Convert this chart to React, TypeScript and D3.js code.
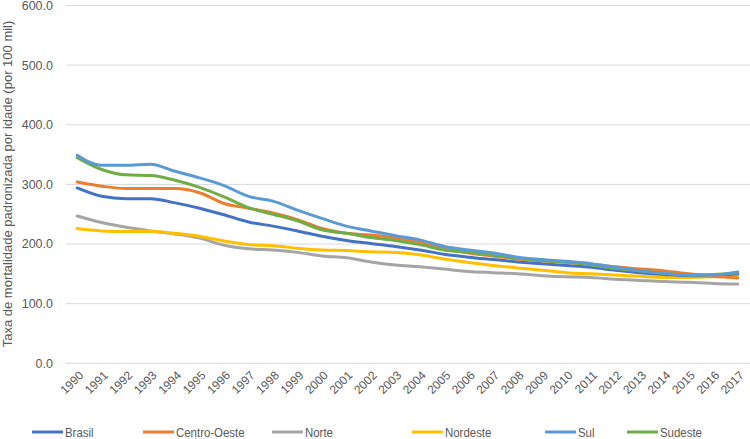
import React from "react";
import * as d3 from "d3";

const years = ["1990","1991","1992","1993","1994","1995","1996","1997","1998","1999","2000","2001","2002","2003","2004","2005","2006","2007","2008","2009","2010","2011","2012","2013","2014","2015","2016","2017"];

const brasil = [294,280,276,276,269,260,249,237,230,222,213,206,201,196,190,183,178,174,170,167,164,161,156,152,149,147,147,150];
const centroOeste = [304,297,293,293,293,286,268,260,252,241,226,218,215,210,203,192,185,180,175,172,169,166,162,158,155,150,146,143];
const norte = [247,236,228,222,217,210,198,192,190,186,180,177,170,165,162,158,154,152,150,147,145,144,141,139,137,136,134,133];
const nordeste = [226,222,221,221,218,213,205,199,197,193,190,189,187,186,182,175,169,164,160,156,152,150,148,146,144,144,145,146];
const sul = [349,332,332,334,322,311,298,280,272,257,243,230,222,214,207,196,190,185,178,174,171,167,161,155,151,148,148,153];
const sudeste = [345,325,316,315,307,295,279,261,250,239,224,218,211,206,199,190,186,181,176,172,170,165,159,155,151,148,149,152];

const yTicks = [0, 100, 200, 300, 400, 500, 600];

const seriesNames = ["Brasil", "Centro-Oeste", "Norte", "Nordeste", "Sul", "Sudeste"];
const seriesValues = [brasil, centroOeste, norte, nordeste, sul, sudeste];
const seriesColors = ["#4472C4", "#ED7D31", "#A5A5A5", "#FFC000", "#5B9BD5", "#70AD47"];
const drawOrder = [2, 3, 0, 1, 5, 4];
const legendX = [32, 143, 272, 412, 545, 627];

export default function App() {
  const W = 750, H = 439;
  const x = d3.scaleBand<string>().domain(years).range([65, 750]);
  const y = d3.scaleLinear().domain([0, 600]).range([363.3, 5.5]);
  const cx = (yr: string) => (x(yr) as number) + x.bandwidth() / 2;
  const line = d3
    .line<number>()
    .x((_, i) => cx(years[i]))
    .y((v) => y(v))
    .curve(d3.curveMonotoneX);

  const tickFont = "'Liberation Sans', Arial, sans-serif";
  return (
    <svg
      width={W}
      height={H}
      style={{ position: "absolute", left: 0, top: 0, background: "#fff" }}
    >
      {yTicks.map((t) => (
        <g key={t}>
          <line x1={66} x2={750} y1={y(t)} y2={y(t)} stroke="#d9d9d9" strokeWidth={1} />
          <text
            x={53}
            y={y(t)}
            dy="0.35em"
            textAnchor="end"
            fontSize={12.5}
            fontFamily={tickFont}
            fill="#595959"
          >
            {t.toFixed(1)}
          </text>
        </g>
      ))}
      {years.map((yr) => (
        <text
          key={yr}
          transform={`translate(${cx(yr) + 4},${373}) rotate(-45)`}
          textAnchor="end"
          dy="0.35em"
          fontSize={12}
          fontFamily={tickFont}
          fill="#595959"
        >
          {yr}
        </text>
      ))}
      <text
        transform={`translate(12,${184}) rotate(-90)`}
        textAnchor="middle"
        fontSize={13}
        fontFamily={tickFont}
        fill="#595959"
      >
        Taxa de mortalidade padronizada por idade (por 100 mil)
      </text>
      {drawOrder.map((i) => (
        <path
          key={seriesNames[i]}
          d={line(seriesValues[i]) as string}
          fill="none"
          stroke={seriesColors[i]}
          strokeWidth={3}
          strokeLinejoin="round"
          strokeLinecap="round"
        />
      ))}
      {seriesNames.map((n, i) => (
        <g key={n}>
          <line
            x1={legendX[i]}
            x2={legendX[i] + 31}
            y1={432}
            y2={432}
            stroke={seriesColors[i]}
            strokeWidth={3}
          />
          <text
            transform={`translate(${legendX[i] + 33},432) scale(0.88,1)`}
            dy="0.35em"
            fontSize={13}
            fontFamily={tickFont}
            fill="#595959"
          >
            {n}
          </text>
        </g>
      ))}
    </svg>
  );
}
